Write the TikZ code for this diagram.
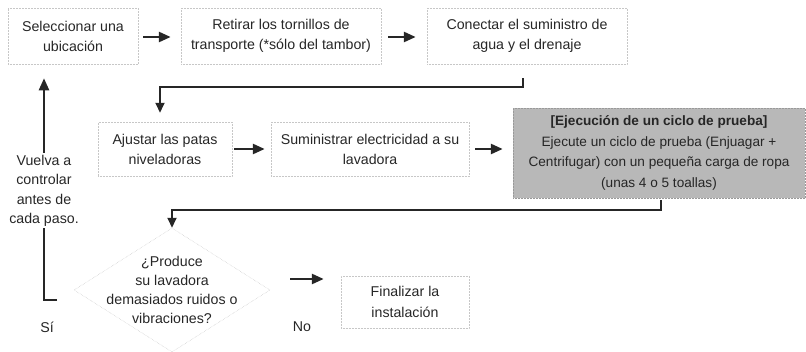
\documentclass[tikz,border=0pt]{standalone}
\usepackage{fontspec}
\setmainfont{Liberation Sans}
\usetikzlibrary{arrows.meta,shapes.geometric}
\begin{document}
\begin{tikzpicture}[x=1pt,y=-1pt,
  txt/.style={font=\fontsize{14.2}{20}\selectfont, text=black!85, align=center, inner sep=0pt},
  stepbox/.style={txt, draw=black!22, densely dotted, line width=0.5pt},
  graybox/.style={txt, fill=black!28, draw=black!40, densely dotted, line width=0.5pt},
  arr/.style={line width=2.6pt, draw=black!85, -{Triangle[length=12pt,width=10pt]}},
  conn/.style={line width=2pt, draw=black!85},
  connarr/.style={conn, -{Triangle[length=10pt,width=9pt]}}
]
\useasboundingbox (0,0) rectangle (806,351);

\node[stepbox, minimum width=130pt, minimum height=56pt] (n1) at (73,36) {Seleccionar una\\ubicación};
\node[stepbox, minimum width=200pt, minimum height=56pt] (n2) at (281,36) {Retirar los tornillos de\\transporte (*sólo del tambor)};
\node[stepbox, minimum width=200pt, minimum height=56pt] (n3) at (527,36) {Conectar el suministro de\\agua y el drenaje};

\node[stepbox, minimum width=134pt, minimum height=54pt] (n4) at (165,149) {Ajustar las patas\\niveladoras};
\node[stepbox, minimum width=198pt, minimum height=54pt] (n5) at (370,149) {Suministrar electricidad a su\\lavadora};
\node[graybox, minimum width=292pt, minimum height=90pt, font=\fontsize{13.6}{20.5}\selectfont] (n6) at (659,153)
  {\textbf{[Ejecución de un ciclo de prueba]}\\Ejecute un ciclo de prueba (Enjuagar +\\Centrifugar) con un pequeña carga de ropa\\(unas 4 o 5 toallas)};

\node[diamond, draw=black!22, densely dotted, line width=0.5pt, inner sep=0pt, minimum width=196pt, minimum height=124pt] (q) at (172,290) {};
\node[txt, font=\fontsize{14.2}{19}\selectfont] (qt) at (q.center) {¿Produce\\su lavadora\\demasiados ruidos o\\vibraciones?};

\node[stepbox, minimum width=128pt, minimum height=52pt, font=\fontsize{14.2}{21}\selectfont] (n8) at (405,302) {Finalizar la\\instalación};

\node[txt, font=\fontsize{14.2}{19.5}\selectfont] (vt) at (44,191) {Vuelva a\\controlar\\antes de\\cada paso.};
\node[txt] (si) at (47,327) {Sí};
\node[txt] (no) at (302,327) {No};

\coordinate (sfoot) at (57,300);
\coordinate (scorner) at (44,300);

% row 1 arrows
\draw[arr, shorten <=5pt, shorten >=10pt] ([yshift=-1pt]n1.east) -- ([yshift=-1pt]n2.west);
\draw[arr, shorten <=7pt, shorten >=11pt] ([yshift=-1pt]n2.east) -- ([yshift=-1pt]n3.west);
% row1 -> row2
\draw[connarr, shorten >=9pt] ([xshift=-4pt,yshift=-14pt]n3.south) -- ++(0,9) -| ([xshift=-5pt]n4.north);
% row 2 arrows
\draw[arr, shorten <=2pt, shorten >=6pt] (n4.east) -- (n5.west);
\draw[arr, shorten <=6pt, shorten >=10pt] (n5.east) -- (n5.east -| n6.west);
% row2 -> decision
\draw[connarr] ([xshift=2pt,yshift=-2pt]n6.south) -- ++(0,10) -| (q.north);
% decision -> finish
\draw[arr, shorten <=20pt, shorten >=17pt] ([yshift=11pt]q.east) -- ([yshift=11pt]n8.west |- q.east);
% feedback
\draw[conn, line width=2.3pt] (sfoot) -- (scorner) -- ([yshift=-1pt]vt.south);
\draw[arr, line width=2.3pt, shorten <=2pt, shorten >=14pt] (vt.north) -- (vt.north |- n1.south);
\end{tikzpicture}
\end{document}
